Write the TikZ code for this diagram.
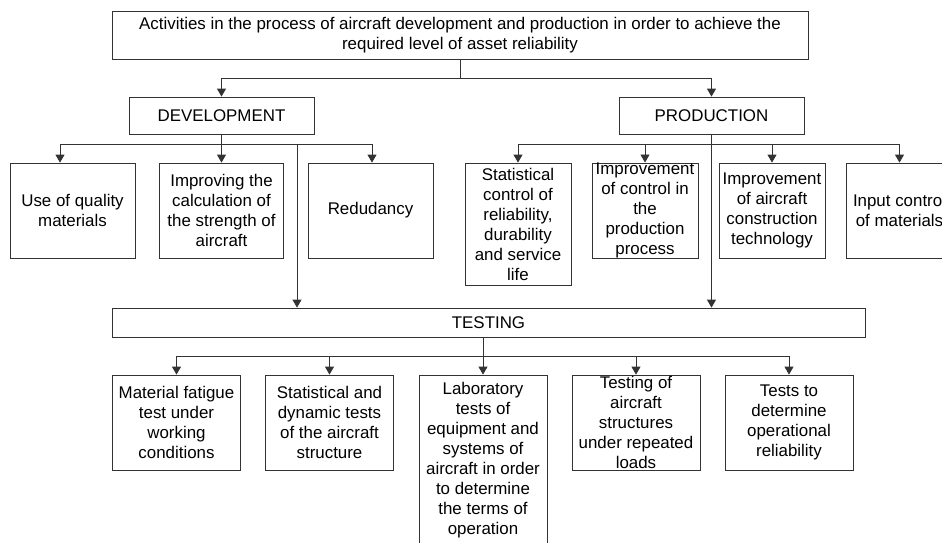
\documentclass[tikz,border=0pt]{standalone}
\usepackage{fontspec}
\setmainfont{Liberation Sans}
\usetikzlibrary{arrows.meta}

\begin{document}
\begin{tikzpicture}[x=1pt, y=-1pt,
        box/.style={draw=black!80, line width=0.8pt, inner sep=0pt, align=center, font=\fontsize{16.9}{20}\selectfont},
        arr/.style={draw=black!80, line width=0.8pt, -{Triangle[length=8pt, width=9pt]}}]
        \useasboundingbox (0,0) rectangle (942,542);

        \node[box, minimum width=696, minimum height=48] (act) at (460,35) {Activities in the process of aircraft development and production in order to achieve the\\required level of asset reliability};

        \node[box, minimum width=185, minimum height=37] (dev) at (221.5,115.5) {DEVELOPMENT};
        \node[box, minimum width=185, minimum height=37] (prod) at (711.5,115.5) {PRODUCTION};

        \node[box, minimum width=125, minimum height=95] (m1) at (72.5,210.5) {Use of quality\\materials};
        \node[box, minimum width=124, minimum height=95] (m2) at (221.5,210.5) {Improving the\\calculation of\\the strength of\\aircraft};
        \node[box, minimum width=125, minimum height=95] (m3) at (370.5,210.5) {Redudancy};

        \node[box, minimum width=106, minimum height=122] (p1) at (518,224) {Statistical\\control of\\reliability,\\durability\\and service\\life};
        \node[box, minimum width=106, minimum height=95] (p2) at (645,210.5) {Improvement\\of control in\\the\\production\\process};
        \node[box, minimum width=106, minimum height=95] (p3) at (772,210.5) {Improvement\\of aircraft\\construction\\technology};
        \node[box, minimum width=106, minimum height=95] (p4) at (899.5,210.5) {Input control\\of materials};

        \node[box, minimum width=753, minimum height=29] (test) at (488.5,322.5) {TESTING};

        \node[box, minimum width=128, minimum height=95] (t1) at (176.5,422.5) {Material fatigue\\test under\\working\\conditions};
        \node[box, minimum width=128, minimum height=95] (t2) at (329.5,422.5) {Statistical and\\dynamic tests\\of the aircraft\\structure};
        \node[box, minimum width=128, minimum height=171] (t3) at (483,460.5) {Laboratory\\tests of\\equipment and\\systems of\\aircraft in order\\to determine\\the terms of\\operation};
        \node[box, minimum width=128, minimum height=95] (t4) at (636,422.5) {Testing of\\aircraft\\structures\\under repeated\\loads};
        \node[box, minimum width=128, minimum height=95] (t5) at (789,422.5) {Tests to\\determine\\operational\\reliability};

        \draw[arr] (act.south) -- ++(0,19) -| (dev.north);
        \draw[arr] (act.south) -- ++(0,19) -| (prod.north);

        \draw[arr] (dev.south) -- ++(0,10) -| ([xshift=-12.5]m1.north);
        \draw[arr] (dev.south) -- (m2.north);
        \draw[arr] (dev.south) -- ++(0,10) -| ([xshift=1.5]m3.north);
        \draw[arr] (dev.south) -- ++(0,10) -| ([xshift=-191.5]test.north);

        \draw[arr] (prod.south) -- ++(0,10) -| (p1.north);
        \draw[arr] (prod.south) -- ++(0,10) -| (p2.north);
        \draw[arr] (prod.south) -- ++(0,10) -| (p3.north);
        \draw[arr] (prod.south) -- ++(0,10) -| (p4.north);
        \draw[arr] (prod.south) -- (prod.south |- test.north);

        \draw[arr] (test.south -| t3.north) -- (t3.north);
        \draw[arr] (test.south -| t3.north) -- ++(0,19) -| (t1.north);
        \draw[arr] (test.south -| t3.north) -- ++(0,19) -| (t2.north);
        \draw[arr] (test.south -| t3.north) -- ++(0,19) -| (t4.north);
        \draw[arr] (test.south -| t3.north) -- ++(0,19) -| (t5.north);
    \end{tikzpicture}
\end{document}
